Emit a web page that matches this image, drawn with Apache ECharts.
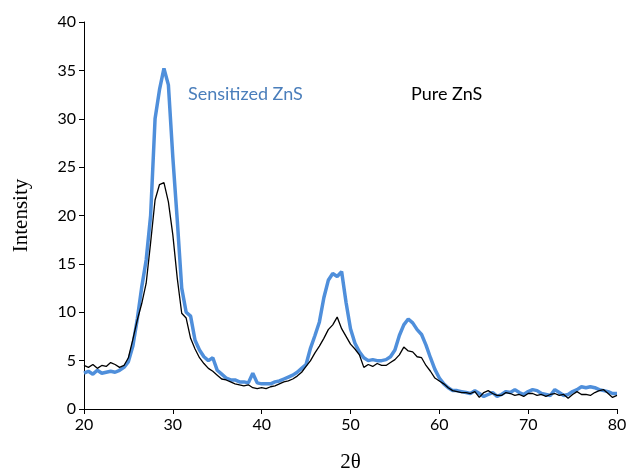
<!DOCTYPE html>
<html><head><meta charset="utf-8">
<script src="https://cdn.jsdelivr.net/npm/echarts@6/dist/echarts.min.js"></script>
<style>html,body{margin:0;padding:0;background:#fff}#c{width:629px;height:475px}</style>
</head><body><div id="c"></div>
<script>
const twoTheta = [];
for (let i = 0; i <= 120; i++) twoTheta.push(20 + i * 0.5);

const pureZnS = [
4.5,4.3,4.6,4.2,4.5,4.4,4.8,4.6,4.3,4.5,
5.3,7.2,9.2,10.9,13.0,17.2,21.6,23.2,23.4,21.4,
18.0,13.5,9.9,9.4,7.3,6.2,5.3,4.7,4.2,3.9,
3.5,3.1,3.0,2.8,2.6,2.5,2.4,2.5,2.2,2.1,
2.2,2.1,2.3,2.4,2.6,2.8,2.9,3.1,3.4,3.8,
4.4,5.0,5.8,6.5,7.3,8.2,8.7,9.5,8.3,7.5,
6.7,6.2,5.6,4.3,4.6,4.4,4.7,4.5,4.5,4.8,
5.1,5.6,6.4,6.0,5.9,5.4,5.3,4.5,3.9,3.2,
2.9,2.6,2.2,1.9,1.8,1.7,1.7,1.6,1.8,1.2,
1.7,1.9,1.6,1.4,1.4,1.7,1.6,1.4,1.5,1.3,
1.6,1.6,1.4,1.5,1.3,1.5,1.6,1.4,1.5,1.1,
1.5,1.8,1.5,1.5,1.4,1.7,1.9,2.0,1.6,1.2,
1.4];

const sensitizedZnS = [
3.7,3.9,3.6,4.0,3.7,3.8,3.9,3.8,4.0,4.3,
4.9,6.5,9.3,12.6,15.4,20.0,30.0,33.0,35.2,33.5,
26.0,19.5,12.5,10.0,9.6,7.1,6.1,5.4,5.0,5.3,
4.0,3.6,3.2,3.0,3.0,2.8,2.8,2.7,3.7,2.7,
2.6,2.6,2.6,2.8,2.9,3.1,3.3,3.5,3.8,4.2,
4.6,6.3,7.6,9.0,11.5,13.3,14.0,13.7,14.2,11.0,
8.3,6.8,5.9,5.3,5.0,5.1,5.0,5.0,5.1,5.4,
6.1,7.6,8.7,9.3,8.9,8.2,7.7,6.6,5.3,4.1,
3.2,2.6,2.2,1.9,1.9,1.8,1.7,1.6,1.9,1.6,
1.3,1.5,1.7,1.3,1.5,1.8,1.7,2.0,1.7,1.5,
1.8,2.0,1.9,1.6,1.5,1.4,2.0,1.7,1.4,1.5,
1.8,2.0,2.3,2.2,2.3,2.2,2.0,1.9,1.8,1.6,
1.6];

const seriesNames = ['Sensitized ZnS', 'Pure ZnS'];

const chart = echarts.init(document.getElementById('c'), null, {renderer: 'canvas'});
const tickFont = {fontFamily: 'Lato, "Open Sans", sans-serif', fontSize: 16, color: '#000'};
chart.setOption({
  animation: false,
  grid: {left: 84, right: 12, top: 22, bottom: 66, containLabel: false, outerBoundsMode: 'none'},
  xAxis: {
    type: 'value', min: 20, max: 80, interval: 10,
    name: '2θ', nameLocation: 'middle', nameGap: 43,
    nameTextStyle: {fontFamily: '"Liberation Serif", serif', fontSize: 21, color: '#000'},
    axisLine: {onZero: false, lineStyle: {color: '#000', width: 1}},
    axisTick: {show: true, length: 5, lineStyle: {color: '#000'}},
    axisLabel: Object.assign({margin: 8}, tickFont),
    splitLine: {show: false}
  },
  yAxis: {
    type: 'value', min: 0, max: 40, interval: 5,
    name: 'Intensity', nameLocation: 'middle', nameGap: 52, nameRotate: 90,
    nameTextStyle: {fontFamily: '"Liberation Serif", serif', fontSize: 21, color: '#000'},
    axisLine: {show: true, lineStyle: {color: '#000', width: 1}},
    axisTick: {show: true, length: 5, lineStyle: {color: '#000'}},
    axisLabel: Object.assign({margin: 8}, tickFont),
    splitLine: {show: false}
  },
  series: [
    {name: seriesNames[0], type: 'line', showSymbol: false,
     data: twoTheta.map((x, i) => [x, sensitizedZnS[i]]),
     lineStyle: {color: '#4f8fdb', width: 3.5}, z: 2},
    {name: seriesNames[1], type: 'line', showSymbol: false,
     data: twoTheta.map((x, i) => [x, pureZnS[i]]),
     lineStyle: {color: '#000', width: 1.3}, z: 3}
  ],
  graphic: [
    {type: 'text', left: 188, top: 85, style: {text: seriesNames[0], fill: '#4a7ebb', font: '18px Lato, "Open Sans", sans-serif'}},
    {type: 'text', left: 411, top: 85, style: {text: seriesNames[1], fill: '#000', font: '18px Lato, "Open Sans", sans-serif'}}
  ]
});
</script>
</body></html>
